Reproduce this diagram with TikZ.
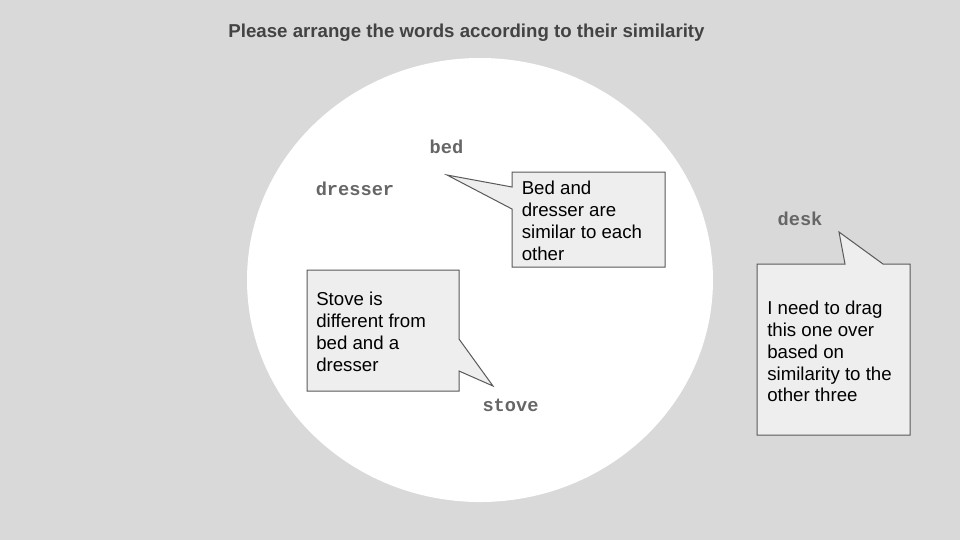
\documentclass[tikz,border=0pt]{standalone}
\usepackage{fontspec}
\setmainfont{Liberation Sans}
\newfontfamily\wordfont{Liberation Mono}
\definecolor{bg}{HTML}{D9D9D9}
\definecolor{titlec}{HTML}{434343}
\definecolor{wordc}{HTML}{666666}
\definecolor{boxfill}{HTML}{EEEEEE}
\definecolor{boxline}{HTML}{595959}
\tikzset{
  word/.style={inner sep=0pt, text=wordc, font=\wordfont\bfseries\fontsize{14pt}{16pt}\selectfont},
  callout/.style={fill=boxfill, draw=boxline, line width=0.75pt, line join=miter},
  calltext/.style={inner sep=0pt, anchor=north west, align=left, text=black, font=\fontsize{14pt}{16.3pt}\selectfont},
}
\begin{document}
\begin{tikzpicture}[x=0.75pt, y=-0.75pt]
\useasboundingbox (0,0) rectangle (960,540);
\fill[bg] (0,0) rectangle (960,540);
\fill[white] (480,280) ellipse [x radius=233, y radius=222];
\node[inner sep=0pt, text=titlec, font=\bfseries\fontsize{14pt}{16pt}\selectfont] (title) at (466.5,33) {Please arrange the words according to their similarity};
% words
\node[word] (bed) at (446.5,147) {bed};
\node[word] (dresser) at (355,189) {dresser};
\node[word] (stove) at (510.5,405) {stove};
\node[word] (desk) at (800,219) {desk};
% callout 1
\coordinate (t1) at (447,175);
\draw[callout] (512,172) -- (665,172) -- (665,267) -- (512,267) -- (512,209) -- (t1) -- (512,187) -- cycle;
\node[calltext] (c1) at (521.5,181) {Bed and\\dresser are\\similar to each\\other};
% callout 2
\coordinate (t2) at (493,386);
\draw[callout] (307,270) -- (459,270) -- (459,339) -- (t2) -- (459,371) -- (459,391) -- (307,391) -- cycle;
\node[calltext] (c2) at (316,292) {Stove is\\different from\\bed and a\\dresser};
% callout 3
\coordinate (t3) at (839,232);
\draw[callout] (757,264) -- (845,264) -- (t3) -- (883,264) -- (910,264) -- (910,435) -- (757,435) -- cycle;
\node[calltext] (c3) at (767,301) {I need to drag\\this one over\\based on\\similarity to the\\other three};
\end{tikzpicture}
\end{document}
